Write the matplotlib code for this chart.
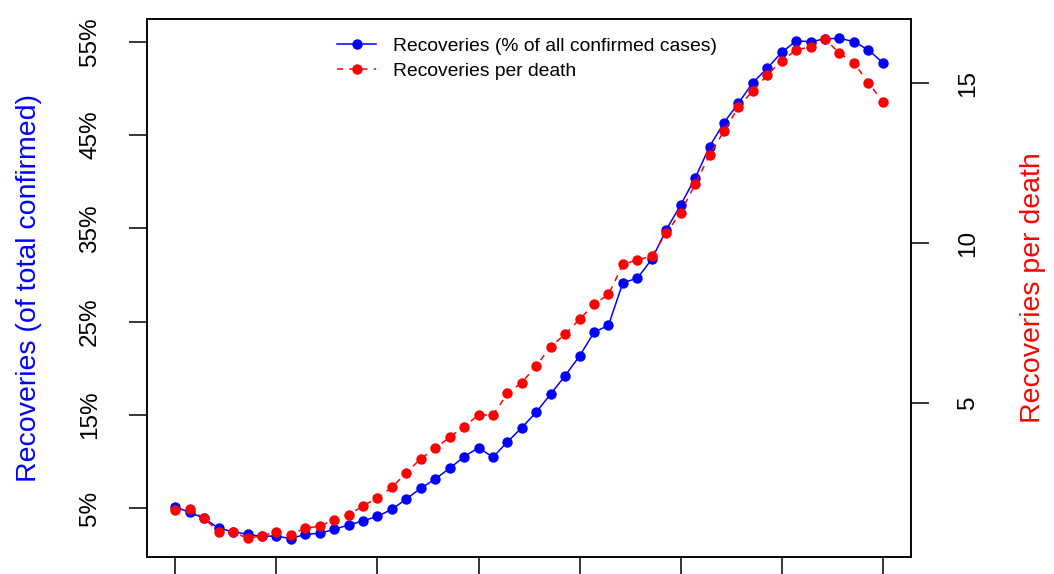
import matplotlib
matplotlib.use('Agg')
import matplotlib.pyplot as plt

plt.rcParams['font.family'] = ['Liberation Sans', 'DejaVu Sans']

days = list(range(50))
recovered_pct = [5.17, 4.55, 3.93, 2.86, 2.49, 2.21, 2.00, 2.03, 1.74, 2.21,
                 2.32, 2.75, 3.21, 3.65, 4.14, 4.89, 6.00, 7.14, 8.14, 9.29,
                 10.53, 11.50, 10.47, 12.11, 13.65, 15.30, 17.25, 19.21, 21.32, 23.86,
                 24.61, 29.18, 29.65, 31.69, 34.83, 37.51, 40.37, 43.76, 46.33, 48.41,
                 50.62, 52.16, 53.87, 55.09, 55.01, 55.30, 55.37, 55.01, 54.12, 52.76]
per_death = [1.64, 1.66, 1.38, 0.95, 0.95, 0.76, 0.83, 0.96, 0.86, 1.08,
             1.13, 1.34, 1.49, 1.77, 2.02, 2.35, 2.81, 3.25, 3.57, 3.92,
             4.25, 4.62, 4.61, 5.29, 5.63, 6.16, 6.75, 7.15, 7.61, 8.08,
             8.39, 9.33, 9.47, 9.59, 10.30, 10.95, 11.84, 12.75, 13.50, 14.25,
             14.77, 15.26, 15.70, 16.04, 16.14, 16.38, 15.94, 15.64, 15.02, 14.42]
pct_ticks = [5, 15, 25, 35, 45, 55]
ratio_ticks = [5, 10, 15]

fig = plt.figure(figsize=(10.54, 5.74), dpi=100)
ax = fig.add_axes([0.1395, 0.0301, 0.7249, 0.9362])
ax2 = ax.twinx()

l1, = ax.plot(days, recovered_pct, color='blue', lw=1.1, marker='o', ms=7.5, mew=0,
              label='Recoveries (% of all confirmed cases)')
l2, = ax2.plot(days, per_death, color='red', lw=1.1, ls=(0, (4, 4)), marker='o', ms=7.5, mew=0,
               label='Recoveries per death')

ax.set_xlim(-1.96, 50.96)
ax.set_ylim(-0.19, 57.4)
ax2.set_ylim(0.18, 17.0)

ax.set_xticks(days[::7])
ax.set_xticklabels([])
ax.set_yticks(pct_ticks)
ax.set_yticklabels([f'{t}%' for t in pct_ticks], rotation=90, va='center')
ax2.set_yticks(ratio_ticks)
ax2.set_yticklabels([str(t) for t in ratio_ticks], rotation=90, va='center')

for a in (ax, ax2):
    a.tick_params(length=13, width=1.1, labelsize=17.5, pad=20, direction='out')
    for s in a.spines.values():
        s.set_linewidth(1.1)

ax.set_ylabel('Recoveries (of total confirmed)', color='blue', fontsize=20.5, va='center')
ax.yaxis.set_label_coords(-0.155, 0.5)
ax2.set_ylabel('Recoveries per death', color='red', fontsize=20.5, va='center', rotation=90)
ax2.yaxis.set_label_coords(1.160, 0.5)

ax2.legend(handles=[l1, l2], loc='upper left', bbox_to_anchor=(0.249, 0.967),
           frameon=False, fontsize=13.9, borderpad=0, borderaxespad=0,
           handlelength=2.0, handletextpad=0.9, labelspacing=0.4)

fig.savefig('out.png', dpi=100)
